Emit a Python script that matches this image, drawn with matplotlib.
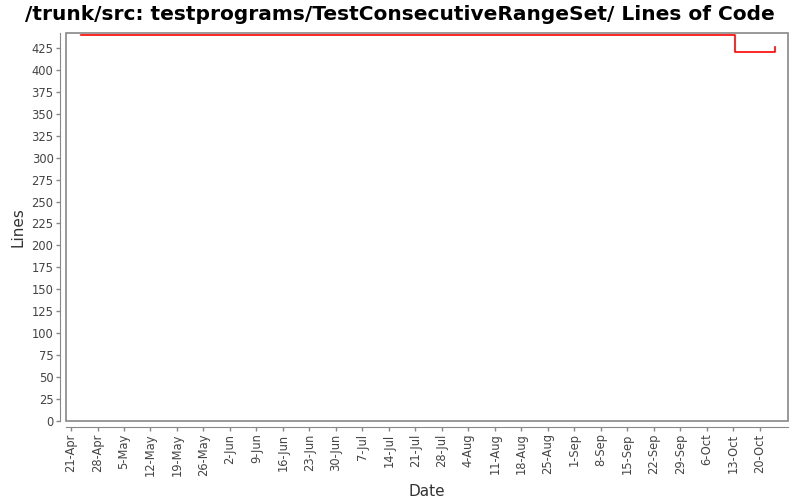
import matplotlib
matplotlib.use("Agg")
import matplotlib.pyplot as plt
import matplotlib.dates as mdates
import matplotlib.patches as mpatches
import pandas as pd

# step series
dates = pd.to_datetime(["2007-04-23 12:00", "2007-10-13 14:00", "2007-10-24 00:00"])
lines = [440, 420, 426]

tick_dates = pd.date_range("2007-04-21", "2007-10-20", freq="7D")
y_ticks = list(range(0, 426, 25))

fig = plt.figure(figsize=(8, 5), dpi=100)
ax = fig.add_axes([66 / 800, 1 - 421 / 500, (788 - 66) / 800, (421 - 33) / 500])

ax.step(dates, lines, where="post", color="#ff0000", lw=1.2)

ax.set_xlim(pd.Timestamp("2007-04-19 16:00"), pd.Timestamp("2007-10-27 12:00"))
ax.set_ylim(0, 442)

ax.set_xticks(tick_dates)
ax.xaxis.set_major_formatter(mdates.DateFormatter("%-d-%b"))
ax.set_yticks(y_ticks)
ax.tick_params(axis="x", labelrotation=90)
ax.tick_params(colors="#888888", labelcolor="#444444", labelsize=8.3, length=3, width=1, pad=2)

for side in ["top", "right"]:
    ax.spines[side].set_visible(False)
for side in ["left", "bottom"]:
    ax.spines[side].set_position(("outward", 4))
    ax.spines[side].set_color("#888888")

# plot area frame
ax.add_patch(mpatches.Rectangle((0, 0), 1, 1, transform=ax.transAxes, fill=False,
                                edgecolor="#888888", lw=1.2, clip_on=False))

ax.set_xlabel("Date", fontsize=11, color="#333333", labelpad=6)
ax.set_ylabel("Lines", fontsize=11, color="#333333", labelpad=4)
fig.suptitle("/trunk/src: testprograms/TestConsecutiveRangeSet/ Lines of Code",
             fontsize=14.5, fontweight="bold", y=0.99)

fig.savefig("out.png", dpi=100)
